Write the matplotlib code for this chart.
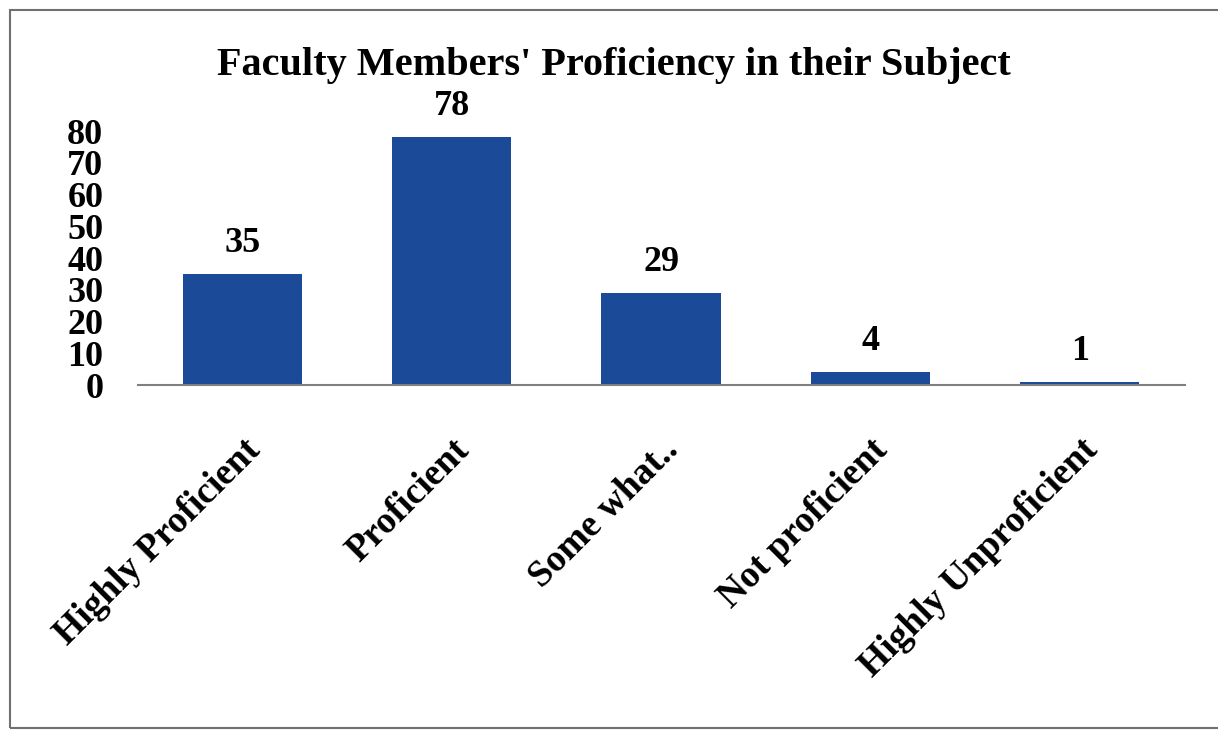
import matplotlib.pyplot as plt
import numpy as np
from matplotlib.patches import Rectangle

categories = ['Highly Proficient', 'Proficient', 'Some what..', 'Not proficient', 'Highly Unproficient']
counts = [35, 78, 29, 4, 1]
yticks = [0, 10, 20, 30, 40, 50, 60, 70, 80]

plt.rcParams['font.family'] = ['Liberation Serif', 'DejaVu Serif']
plt.rcParams['font.weight'] = 'bold'

fig = plt.figure(figsize=(12.18, 7.32), dpi=100)
ax = fig.add_axes([0.1133, 0.474, 0.8596, 0.347])

x = np.arange(len(categories))
ax.bar(x, counts, 0.57, color='#1a4a98')
for xi, v in zip(x, counts):
    ax.annotate(str(v), (xi, v), xytext=(0, 10), textcoords='offset points',
                ha='center', va='bottom', fontsize=26, fontweight='bold')

ax.set_xlim(-0.499, 4.503)
ax.set_ylim(0, 80)
ax.set_yticks(yticks)
ax.set_yticklabels([str(t) for t in yticks], fontsize=26, fontweight='bold')
ax.set_xticks(x)
ax.set_xticklabels(categories, rotation=45, ha='right', rotation_mode='anchor',
                   fontsize=27, fontweight='bold')
ax.tick_params(axis='y', length=0, pad=25)
ax.tick_params(axis='x', length=0, pad=34)
for s in ['top', 'right', 'left']:
    ax.spines[s].set_visible(False)
ax.spines['bottom'].set_color('#808080')
ax.spines['bottom'].set_linewidth(1.5)

fig.text(0.504, 1 - 75 / 732, "Faculty Members' Proficiency in their Subject",
         ha='center', va='baseline', fontsize=29, fontweight='bold')

# outer frame of the chart area
fig.patches.append(Rectangle((0.008, 0.006), 0.995, 0.981, transform=fig.transFigure,
                             fill=False, edgecolor='#707070', linewidth=1.5))

fig.savefig('out.png', dpi=100)
